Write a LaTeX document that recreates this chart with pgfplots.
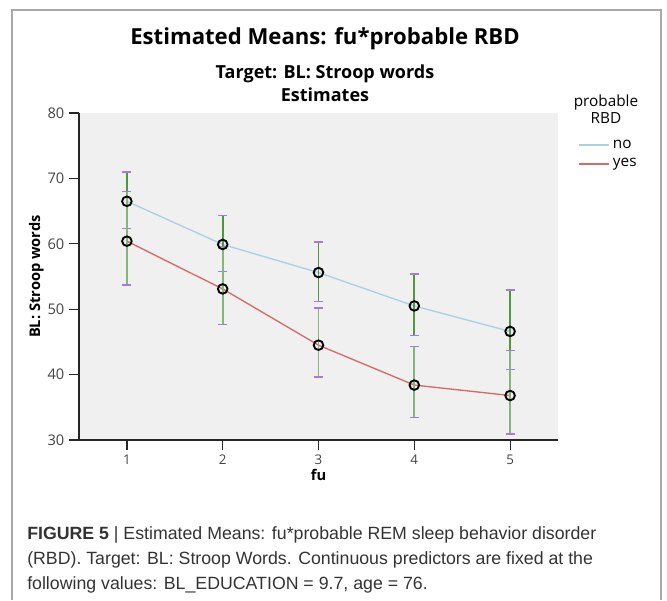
\documentclass[border=0pt]{standalone}
\usepackage{fontspec}
\setmainfont{Open Sans}
\newfontfamily\capfont{Liberation Sans}
\usepackage{pgfplots}
\pgfplotsset{compat=1.18}

\definecolor{plotbg}{HTML}{F0F0F0}
\definecolor{frame}{HTML}{A8A8A8}
\definecolor{nocol}{HTML}{A9D1E3}
\definecolor{yescol}{HTML}{D46A6A}
\definecolor{ebgreen}{HTML}{4A9B3A}
\definecolor{ebcap}{HTML}{A57BD6}
\definecolor{ticktext}{HTML}{444444}
\definecolor{captext}{HTML}{333333}

\begin{document}
\begin{tikzpicture}
\useasboundingbox (0,0) rectangle (500.25pt,450pt);
% outer frame, open at the bottom
\draw[frame, line width=1.1pt] (9pt,0pt) -- (9pt,442.5pt) -- (495.75pt,442.5pt) -- (495.75pt,0pt);

% titles
\node[anchor=base, font=\fontsize{16.6}{20}\selectfont\bfseries] at (243.75pt,416.25pt) {Estimated Means: fu*probable RBD};
\node[anchor=base, font=\fontsize{13.5}{15}\selectfont\bfseries] at (243.75pt,390.75pt) {Target: BL: Stroop words};
\node[anchor=base, font=\fontsize{13.5}{15}\selectfont\bfseries] at (243.75pt,373.5pt) {Estimates};

% legend title
\node[anchor=base, font=\fontsize{11.5}{13}\selectfont] at (454.5pt,369.75pt) {probable};
\node[anchor=base, font=\fontsize{11.5}{13}\selectfont] at (454.5pt,357.5pt) {RBD};

\begin{axis}[
    at={(59.25pt,120pt)}, anchor=south west,
    scale only axis,
    width=359.25pt, height=245.25pt,
    xmin=0.5, xmax=5.5,
    ymin=30, ymax=80,
    xtick={1,2,3,4,5},
    ytick={30,40,50,60,70,80},
    axis line style={black!85, line width=0.9pt},
    axis x line*=bottom, axis y line*=left,
    tick align=outside,
    major tick length=7.5pt,
    tick style={black!85, line width=0.9pt},
    axis background/.style={fill=plotbg},
    ticklabel style={font=\fontsize{11}{13}\selectfont, text=ticktext},
    xticklabel style={font=\fontsize{10}{12}\selectfont},
    /pgf/number format/assume math mode=true,
    xlabel={fu},
    ylabel={BL: Stroop words},
    label style={font=\fontsize{11}{13}\selectfont\bfseries},
    xlabel style={yshift=3pt},
    ylabel style={yshift=-4pt},
    legend style={draw=none, fill=none, at={(1.042,0.926)}, anchor=north west,
        inner sep=0pt, font=\fontsize{11.5}{13}\selectfont, row sep=2pt},
    legend cell align=left,
    legend image code/.code={\draw[#1, line width=1.4pt] (0pt,0pt) -- (22.5pt,0pt);},
]
% lines
\addplot[nocol, line width=1pt] coordinates {(1,66.5) (2,59.9) (3,55.6) (4,50.5) (5,46.6)};
\addlegendentry{no}
\addplot[yescol, line width=1pt] coordinates {(1,60.4) (2,53.1) (3,44.5) (4,38.4) (5,36.8)};
\addlegendentry{yes}

% error bars
\addplot[draw=none, forget plot,
    error bars/.cd, y dir=both, y explicit,
    error bar style={ebgreen, line width=1.3pt},
    error mark options={ebcap, line width=1.1pt, mark size=3.4pt, rotate=90}]
coordinates {
    (1,66.5) += (0,4.5) -= (0,4.2)
    (2,59.9) += (0,4.4) -= (0,4.1)
    (3,55.6) += (0,4.7) -= (0,4.4)
    (4,50.5) += (0,4.9) -= (0,4.5)
    (5,46.6) += (0,6.3) -= (0,5.8)
};
\addplot[draw=none, forget plot,
    error bars/.cd, y dir=both, y explicit,
    error bar style={ebgreen!70, line width=1.3pt},
    error mark options={ebcap, line width=1.1pt, mark size=3.4pt, rotate=90}]
coordinates {
    (1,60.4) += (0,7.6) -= (0,6.7)
    (2,53.1) += (0,6.5) -= (0,5.4)
    (3,44.5) += (0,5.7) -= (0,4.9)
    (4,38.4) += (0,5.9) -= (0,5.0)
    (5,36.8) += (0,6.9) -= (0,5.9)
};

% estimate markers
\addplot[only marks, forget plot, mark=o, mark size=3.6pt, mark options={black, line width=1.4pt}]
coordinates {(1,66.5) (2,59.9) (3,55.6) (4,50.5) (5,46.6)};
\addplot[only marks, forget plot, mark=o, mark size=3.6pt, mark options={black, line width=1.4pt}]
coordinates {(1,60.4) (2,53.1) (3,44.5) (4,38.4) (5,36.8)};
\end{axis}

% caption
\node[anchor=base west, font=\capfont\fontsize{13.3}{15}\selectfont, text=captext, inner sep=0pt] at (20.25pt,45.75pt)
    {\textbf{FIGURE 5} | Estimated Means: fu*probable REM sleep behavior disorder};
\node[anchor=base west, font=\capfont\fontsize{13.3}{15}\selectfont, text=captext, inner sep=0pt] at (20.25pt,27pt)
    {(RBD). Target: BL: Stroop Words. Continuous predictors are fixed at the};
\node[anchor=base west, font=\capfont\fontsize{13.3}{15}\selectfont, text=captext, inner sep=0pt] at (20.25pt,8.25pt)
    {following values: BL\_EDUCATION = 9.7, age = 76.};
\end{tikzpicture}
\end{document}
